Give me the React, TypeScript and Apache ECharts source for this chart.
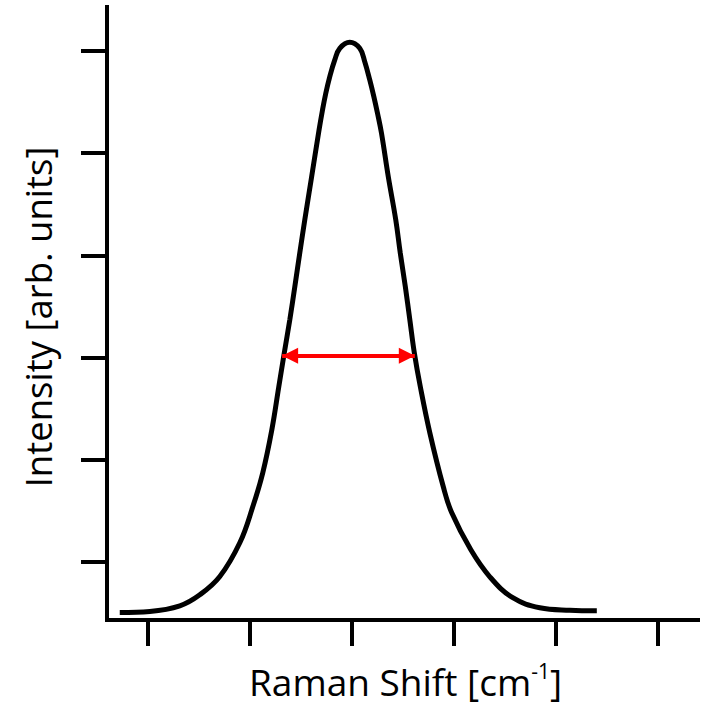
import { useEffect, useRef } from 'react';
import * as echarts from 'echarts';

// Raman shift positions (axis units: one unit per tick)
const ramanShift = [
  0.725, 1.02, 1.314, 1.51, 1.706, 1.902, 2.029, 2.127, 2.216, 2.284, 2.338, 2.392,
  2.441, 2.49, 2.539, 2.606, 2.679, 2.713, 2.745, 2.784, 2.833, 2.882, 2.98,
  3.078, 3.127, 3.176, 3.216, 3.252, 3.291, 3.358, 3.431, 3.475, 3.525, 3.569,
  3.613, 3.672, 3.765, 3.897, 3.98, 4.167, 4.353, 4.578, 4.843, 5.137, 5.402,
];
// Intensity (axis units: one unit per tick)
const intensity = [
  0.504, 0.514, 0.569, 0.677, 0.856, 1.186, 1.538, 1.871, 2.292, 2.712, 3.045, 3.368,
  3.691, 4.023, 4.346, 4.767, 5.227, 5.423, 5.586, 5.749, 5.912, 6.026, 6.085,
  6.026, 5.895, 5.716, 5.553, 5.39, 5.195, 4.767, 4.346, 4.023, 3.691, 3.368,
  3.045, 2.712, 2.262, 1.734, 1.479, 1.117, 0.853, 0.648, 0.55, 0.526, 0.521,
];
const xTicks = [1, 2, 3, 4, 5, 6];
const yTicks = [1, 2, 3, 4, 5, 6];
const xRange = [0.6, 6.394];
const yRange = [0.43, 6.43];
const fwhmRange = [2.317, 3.618];
const halfMax = 3.016;
const xLabel = 'Raman Shift [cm';
const xLabelSup = '-1';
const xLabelEnd = ']';
const yLabel = 'Intensity [arb. units]';

export default function App() {
  const ref = useRef<HTMLDivElement>(null);
  useEffect(() => {
    document.body.style.margin = '0';
    const chart = echarts.init(ref.current!, null, { renderer: 'svg' });
    const font = 'Open Sans';
    const red = '#ff0000';
    const head = 16;
    const axisLine = { lineStyle: { color: '#000', width: 4, cap: 'square' } };
    chart.setOption({
      animation: false,
      grid: { left: 107, top: 7, right: 3, bottom: 85 },
      xAxis: {
        type: 'value',
        min: xRange[0],
        max: xRange[1],
        axisLine,
        axisTick: { show: true, customValues: xTicks, length: 26, lineStyle: { color: '#000', width: 4 } },
        axisLabel: { show: false },
        splitLine: { show: false },
        name: `{a|${xLabel}}{s|${xLabelSup}}{a|${xLabelEnd}}`,
        nameLocation: 'middle',
        nameGap: 40,
        nameTextStyle: {
          padding: [0, 0, 0, 6],
          rich: {
            a: { fontFamily: font, fontSize: 37, color: '#000', lineHeight: 42 },
            s: { fontFamily: font, fontSize: 21, color: '#000', lineHeight: 21, verticalAlign: 'top' },
          },
        },
      },
      yAxis: {
        type: 'value',
        min: yRange[0],
        max: yRange[1],
        axisLine,
        axisTick: { show: true, customValues: yTicks, length: 26, lineStyle: { color: '#000', width: 4 } },
        axisLabel: { show: false },
        splitLine: { show: false },
        name: yLabel,
        nameLocation: 'middle',
        nameGap: 48,
        nameTextStyle: { fontFamily: font, fontSize: 36.5, color: '#000', lineHeight: 42, padding: [0, 7, 0, 0] },
      },
      series: [
        {
          type: 'line',
          data: ramanShift.map((x, i) => [x, intensity[i]]),
          smooth: 0.4,
          showSymbol: false,
          lineStyle: { color: '#000', width: 5 },
          itemStyle: { color: '#000' },
          z: 2,
        },
        {
          type: 'lines',
          coordinateSystem: 'cartesian2d',
          data: [{ coords: [[fwhmRange[0], halfMax], [fwhmRange[1], halfMax]] }],
          lineStyle: { color: red, width: 4, opacity: 1 },
          symbol: 'none',
          z: 3,
        },
        {
          type: 'scatter',
          symbol: 'triangle',
          symbolSize: head,
          itemStyle: { color: red, opacity: 1 },
          data: [
            { value: [fwhmRange[0], halfMax], symbolRotate: 90, symbolOffset: [head / 2, 0] },
            { value: [fwhmRange[1], halfMax], symbolRotate: -90, symbolOffset: [-head / 2, 0] },
          ],
          z: 4,
        },
      ],
    });
    return () => chart.dispose();
  }, []);
  return <div ref={ref} style={{ width: 701, height: 705 }} />;
}
